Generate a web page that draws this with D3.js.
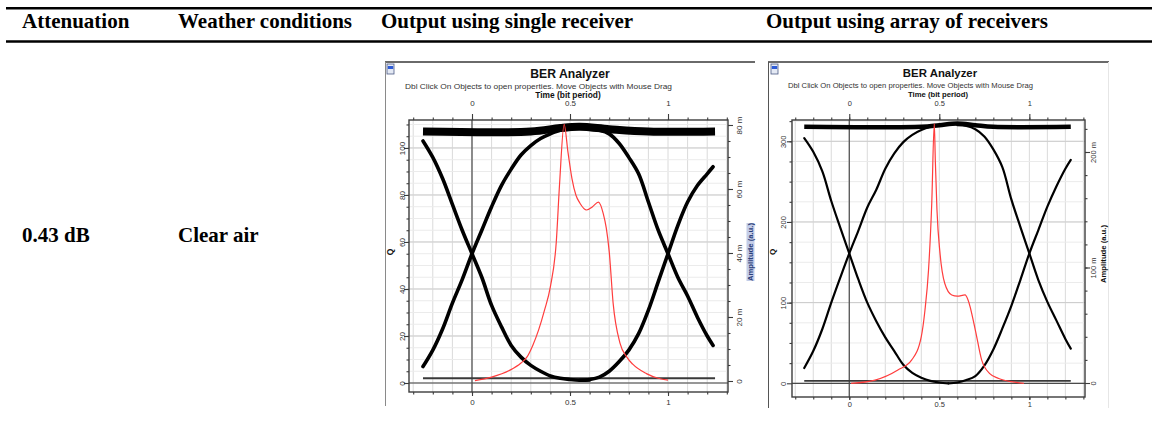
<!DOCTYPE html>
<meta charset="utf-8">
<script src="https://d3js.org/d3.v7.min.js"></script>
<style>
  body { margin: 0; background: #fff; }
</style>
<div id="chart"></div>
<script>

// table text
var headers = ["Attenuation", "Weather conditions", "Output using single receiver", "Output using array of receivers"];
var rowCells = ["0.43 dB", "Clear air"];

// time axis labels (bit period), shared by both analyzers
var timeTicks = [0, 0.5, 1];

// single receiver: axis ticks
var qTicks1 = [0, 20, 40, 60, 80, 100];
var ampTicks1 = [0, 0.02, 0.04, 0.06, 0.08];
// single receiver: eye traces, [time, Q]
var riseLeft1 = [[-0.25, 7], [-0.2, 14], [-0.15, 23], [-0.1, 34], [-0.05, 44], [0, 55], [0.05, 65], [0.1, 75], [0.15, 84], [0.2, 91], [0.25, 97], [0.3, 101], [0.35, 104], [0.4, 106], [0.45, 107.5], [0.5, 108]];
var fallLeft1 = [[-0.25, 103], [-0.2, 96], [-0.15, 87], [-0.1, 76], [-0.05, 65], [0, 55], [0.05, 45], [0.1, 33], [0.15, 24], [0.2, 16], [0.25, 11], [0.3, 7.5], [0.35, 5], [0.4, 3], [0.45, 2], [0.5, 1.5], [0.55, 1.2], [0.6, 1.3]];
var fallRight1 = [[0.6, 108], [0.65, 107.5], [0.7, 106], [0.75, 102], [0.8, 96], [0.85, 89], [0.9, 77], [0.95, 65], [1, 55], [1.05, 45], [1.1, 37], [1.15, 28], [1.2, 20], [1.23, 16]];
var riseRight1 = [[0.55, 1.2], [0.6, 1.5], [0.65, 2.5], [0.7, 5], [0.75, 9], [0.8, 14], [0.85, 21], [0.9, 31], [0.95, 43], [1, 55], [1.05, 67], [1.1, 77], [1.15, 84], [1.2, 89], [1.23, 92]];
var topRail1 = [[-0.25, 107], [0.3, 107], [0.45, 108.5], [0.55, 109], [0.7, 108], [0.9, 107], [1.24, 107]];
var bottomRail1 = [[-0.25, 2], [1.24, 2]];
// single receiver: red Q-factor curve, [time, Q]
var qCurve1 = [[0.015, 1], [0.1, 2.5], [0.19, 5.3], [0.25, 8.5], [0.28, 11], [0.31, 16], [0.34, 22.6], [0.37, 31], [0.4, 41], [0.43, 60], [0.447, 85], [0.47, 110], [0.49, 98], [0.51, 87], [0.53, 80], [0.55, 76.6], [0.585, 73.6], [0.615, 75], [0.645, 77], [0.67, 72], [0.685, 66], [0.7, 56], [0.72, 34], [0.755, 17], [0.79, 11], [0.82, 8], [0.89, 4], [0.95, 2], [1, 1.2]];

// array of receivers: axis ticks
var qTicks2 = [0, 100, 200, 300];
var ampTicks2 = [0, 0.1, 0.2];
// array of receivers: eye traces, [time, Q]
var riseLeft2 = [[-0.25, 19], [-0.2, 40], [-0.15, 67], [-0.1, 100], [-0.05, 131], [0, 161], [0.05, 189], [0.1, 218], [0.15, 240], [0.2, 266], [0.25, 285], [0.3, 299], [0.35, 308], [0.4, 314], [0.45, 318]];
var fallLeft2 = [[-0.25, 304], [-0.2, 287], [-0.15, 263], [-0.1, 226], [-0.05, 193], [0, 161], [0.05, 129], [0.1, 100], [0.15, 77], [0.2, 57], [0.25, 40], [0.3, 23], [0.35, 13], [0.4, 7], [0.45, 3], [0.5, 1], [0.55, 0]];
var fallRight2 = [[0.6, 320], [0.65, 319], [0.7, 315], [0.75, 306], [0.8, 290], [0.85, 268], [0.9, 228], [0.95, 194], [1, 161], [1.05, 128], [1.1, 101], [1.15, 78], [1.2, 55], [1.23, 43]];
var riseRight2 = [[0.55, 0], [0.6, 1], [0.65, 4], [0.7, 9], [0.75, 22], [0.8, 42], [0.85, 68], [0.9, 96], [0.95, 128], [1, 161], [1.05, 190], [1.1, 219], [1.15, 244], [1.2, 266], [1.23, 277]];
var topRail2 = [[-0.25, 318], [0.4, 318], [0.5, 320], [0.6, 322], [0.7, 320], [0.8, 318], [1.23, 318]];
var bottomRail2 = [[-0.25, 3], [1.23, 3]];
// array of receivers: red Q-factor curve, [time, Q]
var qCurve2 = [[0.01, 0], [0.143, 4], [0.27, 16.5], [0.347, 29], [0.4, 58], [0.42, 90], [0.44, 140], [0.458, 223], [0.472, 322], [0.478, 275], [0.487, 215], [0.504, 161], [0.53, 124], [0.569, 109.5], [0.6, 108], [0.643, 109.5], [0.66, 103], [0.7, 66], [0.735, 29], [0.78, 12], [0.83, 6], [0.9, 2], [0.97, 0]];

var subtitle = "Dbl Click On Objects to open properties.  Move Objects with Mouse Drag";

var W = 1159, H = 431;
var sans = "'Liberation Sans', Arial, sans-serif";
var serif = "'Liberation Serif', 'Times New Roman', serif";

var svg = d3.select("#chart").append("svg")
  .attr("width", W).attr("height", H)
  .style("font-family", sans);
svg.append("rect").attr("width", W).attr("height", H).attr("fill", "#fff");
var defs = svg.append("defs");

// table rules and text
[8.3, 41.5].forEach(function(y) {
  svg.append("line").attr("x1", 6).attr("x2", 1152).attr("y1", y).attr("y2", y)
    .attr("stroke", "#000").attr("stroke-width", 2.4);
});
var colX = [22, 178, 381, 766];
svg.selectAll(".hdr").data(headers).enter().append("text")
  .attr("x", function(d, i) { return colX[i]; })
  .attr("y", 27.5)
  .attr("font-family", serif).attr("font-weight", "bold").attr("font-size", 21)
  .text(function(d) { return d; });
svg.selectAll(".cell").data(rowCells).enter().append("text")
  .attr("x", function(d, i) { return colX[i]; })
  .attr("y", 241.5)
  .attr("font-family", serif).attr("font-weight", "bold").attr("font-size", 21)
  .text(function(d) { return d; });

function fmtAmp(v) { return v === 0 ? "0" : Math.round(v * 1000) + " m"; }

function drawPanel(c) {
  defs.append("clipPath").attr("id", c.id + "clip").append("rect")
    .attr("x", c.box[0] - 2).attr("y", c.box[1] - 2)
    .attr("width", c.box[2] - c.box[0] + 4).attr("height", c.clipBottom - c.box[1] + 2);
  var g = svg.append("g").attr("clip-path", "url(#" + c.id + "clip)");
  var f = c.frame;

  var x = d3.scaleLinear().domain(c.tDomain).range([f[0], f[2]]);
  var yQ = d3.scaleLinear().domain(c.qDomain).range([f[3], f[1]]);
  var yA = d3.scaleLinear().domain(c.ampDomain).range([f[3], f[1]]);

  // window border
  g.append("line").attr("x1", c.box[0]).attr("x2", c.box[2]).attr("y1", c.box[1]).attr("y2", c.box[1])
    .attr("stroke", "#6a6a6a").attr("stroke-width", 2);
  g.append("line").attr("x1", c.box[0] + 0.5).attr("x2", c.box[0] + 0.5).attr("y1", c.box[1]).attr("y2", c.box[3])
    .attr("stroke", c.leftBorder).attr("stroke-width", 1);
  if (c.rightBorder) {
    g.append("line").attr("x1", c.box[2] - 0.5).attr("x2", c.box[2] - 0.5).attr("y1", c.box[1]).attr("y2", c.box[3])
      .attr("stroke", c.rightBorder).attr("stroke-width", 1);
  }

  // little window icon
  g.append("rect").attr("x", c.icon[0]).attr("y", c.icon[1]).attr("width", 7).attr("height", 10)
    .attr("fill", "#e4e9f4").attr("stroke", "#4b5a86").attr("stroke-width", 0.8);
  g.append("rect").attr("x", c.icon[0] + 0.8).attr("y", c.icon[1] + 2).attr("width", 5.4).attr("height", 3)
    .attr("fill", "#2d5bd6");

  // header texts
  g.append("text").attr("x", c.title[0]).attr("y", c.title[1]).attr("text-anchor", "middle")
    .attr("font-weight", "bold").attr("font-size", c.title[2]).attr("fill", "#111").text("BER Analyzer");
  g.append("text").attr("x", c.sub[0]).attr("y", c.sub[1]).attr("font-size", c.sub[3])
    .attr("textLength", c.sub[2]).attr("lengthAdjust", "spacingAndGlyphs").attr("fill", "#333").text(subtitle);
  g.append("text").attr("x", c.timeLab[0]).attr("y", c.timeLab[1]).attr("text-anchor", "middle")
    .attr("font-weight", "bold").attr("font-size", c.timeLab[2]).attr("fill", "#111").text("Time (bit period)");

  // grid
  var tGrid = d3.range(-3, 14).map(function(i) { return i / 10; });
  g.append("g").selectAll("line").data(tGrid).enter().append("line")
    .attr("x1", x).attr("x2", x).attr("y1", f[1]).attr("y2", f[3])
    .attr("stroke", "#dadada").attr("stroke-width", 1);
  var qMinor = d3.range(c.qMinorStep, c.qDomain[1], c.qMinorStep);
  g.append("g").selectAll("line").data(qMinor).enter().append("line")
    .attr("x1", f[0]).attr("x2", f[2]).attr("y1", yQ).attr("y2", yQ)
    .attr("stroke", "#ebebeb").attr("stroke-width", 1);
  g.append("g").selectAll("line").data(c.qTicks).enter().append("line")
    .attr("x1", f[0]).attr("x2", f[2]).attr("y1", yQ).attr("y2", yQ)
    .attr("stroke", "#cacaca").attr("stroke-width", 1);

  // zero lines
  g.append("line").attr("x1", x(0)).attr("x2", x(0)).attr("y1", f[1]).attr("y2", f[3])
    .attr("stroke", "#4a4a4a").attr("stroke-width", 1.2);
  g.append("line").attr("x1", f[0]).attr("x2", f[2]).attr("y1", yQ(0)).attr("y2", yQ(0))
    .attr("stroke", "#4a4a4a").attr("stroke-width", 1.2);

  // frame
  g.append("rect").attr("x", f[0]).attr("y", f[1]).attr("width", f[2] - f[0]).attr("height", f[3] - f[1])
    .attr("fill", "none").attr("stroke", "#3c3c3c").attr("stroke-width", 1.4);

  function styleAxis(sel, size) {
    sel.select(".domain").remove();
    sel.selectAll("line").attr("stroke", "#3c3c3c").attr("stroke-width", 1.1);
    sel.selectAll("text").attr("font-size", size).attr("fill", "#333").attr("font-family", sans);
  }
  var str = function(d) { return String(d); };

  // time axes (top and bottom)
  g.append("g").attr("transform", "translate(0," + f[1] + ")")
    .call(d3.axisTop(x).tickValues(tGrid).tickSize(2.5).tickFormat(""))
    .call(styleAxis, c.font);
  g.append("g").attr("transform", "translate(0," + f[1] + ")")
    .call(d3.axisTop(x).tickValues(timeTicks).tickSize(6).tickPadding(8).tickFormat(str))
    .call(styleAxis, c.font);
  g.append("g").attr("transform", "translate(0," + f[3] + ")")
    .call(d3.axisBottom(x).tickValues(tGrid).tickSize(2.5).tickFormat(""))
    .call(styleAxis, c.font);
  g.append("g").attr("transform", "translate(0," + f[3] + ")")
    .call(d3.axisBottom(x).tickValues(timeTicks).tickSize(c.bottomTick).tickPadding(c.bottomPad).tickFormat(str))
    .call(styleAxis, c.font);

  // Q axis (left)
  g.append("g").attr("transform", "translate(" + f[0] + ",0)")
    .call(d3.axisLeft(yQ).tickValues(qMinor).tickSize(2.5).tickFormat(""))
    .call(styleAxis, c.font);
  g.append("g").attr("transform", "translate(" + f[0] + ",0)")
    .call(d3.axisLeft(yQ).tickValues(c.qTicks).tickSize(5).tickFormat(str))
    .call(styleAxis, c.font)
    .selectAll("text")
      .attr("x", 0).attr("dy", 0).attr("text-anchor", "middle")
      .attr("transform", "translate(" + c.leftShift + ",0) rotate(-90)");

  // amplitude axis (right)
  var ampMinor = d3.range(c.ampMinorStep, c.ampDomain[1], c.ampMinorStep);
  g.append("g").attr("transform", "translate(" + f[2] + ",0)")
    .call(d3.axisRight(yA).tickValues(ampMinor).tickSize(2.5).tickFormat(""))
    .call(styleAxis, c.font);
  g.append("g").attr("transform", "translate(" + f[2] + ",0)")
    .call(d3.axisRight(yA).tickValues(c.ampTicks).tickSize(5).tickFormat(fmtAmp))
    .call(styleAxis, c.font)
    .selectAll("text")
      .attr("x", 0).attr("dy", 0).attr("text-anchor", "middle")
      .attr("transform", "translate(" + c.rightShift + ",0) rotate(-90)");

  // axis titles
  g.append("text").attr("transform", "translate(" + c.qLab[0] + "," + c.qLab[1] + ") rotate(-90)")
    .attr("text-anchor", "middle").attr("font-weight", "bold").attr("font-size", c.font + 0.5)
    .attr("fill", "#111").text("Q");
  if (c.ampHighlight) {
    g.append("rect").attr("x", c.ampLab[0] - 6.5).attr("y", c.ampLab[1] - 29)
      .attr("width", 8).attr("height", 58).attr("fill", "#c3cde8");
  }
  g.append("text").attr("transform", "translate(" + c.ampLab[0] + "," + c.ampLab[1] + ") rotate(-90)")
    .attr("text-anchor", "middle").attr("font-weight", "bold").attr("font-size", c.font)
    .attr("textLength", 58).attr("lengthAdjust", "spacingAndGlyphs")
    .attr("fill", c.ampHighlight ? "#2b3f7a" : "#111").text("Amplitude (a.u.)");

  // eye traces
  var line = d3.line().x(function(d) { return x(d[0]); }).y(function(d) { return yQ(d[1]); })
    .curve(d3.curveCatmullRom);
  g.append("path").datum(c.bottomRail).attr("d", line).attr("fill", "none")
    .attr("stroke", "#3a3a3a").attr("stroke-width", c.bottomWidth);
  g.append("path").datum(c.topRail).attr("d", line).attr("fill", "none")
    .attr("stroke", "#000").attr("stroke-width", c.railWidth);
  g.selectAll(".trace").data(c.traces).enter().append("path")
    .attr("d", line).attr("fill", "none")
    .attr("stroke", "#000").attr("stroke-width", c.traceWidth)
    .attr("stroke-linecap", "round").attr("stroke-linejoin", "round");

  // Q factor curve
  var redLine = d3.line().x(function(d) { return x(d[0]); }).y(function(d) { return yQ(d[1]); })
    .curve(d3.curveMonotoneX);
  g.append("path").datum(c.qCurve).attr("d", redLine).attr("fill", "none")
    .attr("stroke", "#ff3d3d").attr("stroke-width", 1.2);
}

drawPanel({
  id: "single",
  box: [385, 62, 755, 406], clipBottom: 408,
  leftBorder: "#8a8a8a", rightBorder: null,
  icon: [387, 64],
  frame: [409, 120, 728, 392],
  tDomain: [-0.3214, 1.3061],
  qDomain: [-3.83, 111.9],
  ampDomain: [-0.00344, 0.08156],
  qTicks: qTicks1, ampTicks: ampTicks1,
  qMinorStep: 5, ampMinorStep: 0.005,
  title: [570, 77.5, 12.2],
  sub: [405, 88.5, 267, 7.8],
  timeLab: [568, 97.5, 8.4],
  font: 8, bottomTick: 4, bottomPad: 3,
  leftShift: -4.5, rightShift: 13.5,
  qLab: [393, 252], ampLab: [753, 252], ampHighlight: true,
  traces: [riseLeft1, fallLeft1, fallRight1, riseRight1],
  topRail: topRail1, bottomRail: bottomRail1, qCurve: qCurve1,
  traceWidth: 3.6, railWidth: 8, bottomWidth: 2
});

drawPanel({
  id: "array",
  box: [768, 62, 1109, 408], clipBottom: 408,
  leftBorder: "#555", rightBorder: "#e6e6e6",
  icon: [771, 64],
  frame: [792, 120, 1085, 397],
  tDomain: [-0.318, 1.309],
  qDomain: [-16.98, 326.4],
  ampDomain: [-0.01212, 0.2277],
  qTicks: qTicks2, ampTicks: ampTicks2,
  qMinorStep: 25, ampMinorStep: 0.02,
  title: [940, 76.5, 11.4],
  sub: [788, 88, 245, 7.3],
  timeLab: [938, 97, 7.7],
  font: 7.5, bottomTick: 3, bottomPad: 1.5,
  leftShift: -6.2, rightShift: 10.8,
  qLab: [775, 252], ampLab: [1106, 254], ampHighlight: false,
  traces: [riseLeft2, fallLeft2, fallRight2, riseRight2],
  topRail: topRail2, bottomRail: bottomRail2, qCurve: qCurve2,
  traceWidth: 2.2, railWidth: 4.5, bottomWidth: 1.6
});

</script>
